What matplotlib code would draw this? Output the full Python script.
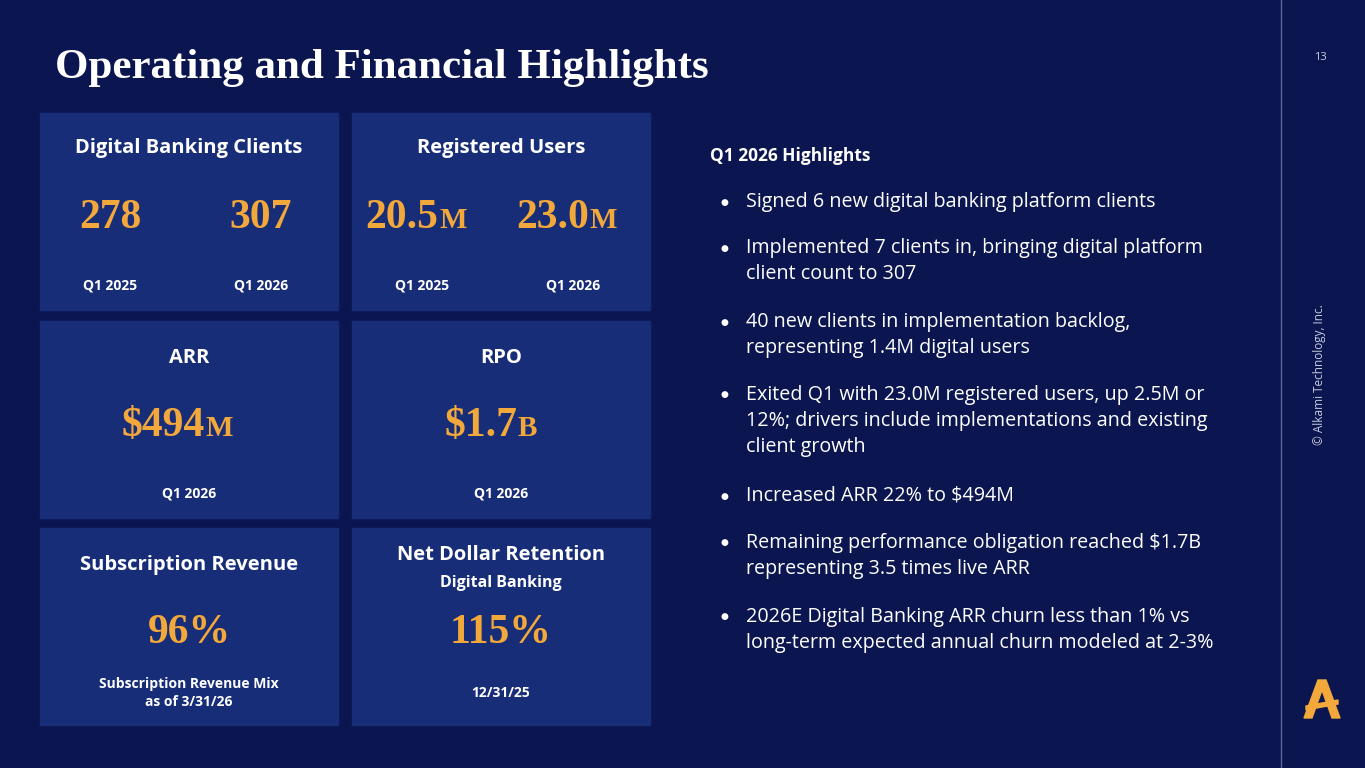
import matplotlib
matplotlib.use("Agg")
import matplotlib.pyplot as plt
from matplotlib.patches import Rectangle, Polygon

title = "Operating and Financial Highlights"
tile_titles = ["Digital Banking Clients", "Registered Users", "ARR", "RPO",
               "Subscription Revenue", "Net Dollar Retention"]
tile_sub = ["", "", "", "", "", "Digital Banking"]
tile_values = [
    [("278", "", "Q1 2025"), ("307", "", "Q1 2026")],
    [("20.5", "M", "Q1 2025"), ("23.0", "M", "Q1 2026")],
    [("$494", "M", "Q1 2026")],
    [("$1.7", "B", "Q1 2026")],
    [("96%", "", "Subscription Revenue Mix\nas of 3/31/26")],
    [("115%", "", "12/31/25")],
]
highlights_title = "Q1 2026 Highlights"
bullets = [
    "Signed 6 new digital banking platform clients",
    "Implemented 7 clients in, bringing digital platform\nclient count to 307",
    "40 new clients in implementation backlog,\nrepresenting 1.4M digital users",
    "Exited Q1 with 23.0M registered users, up 2.5M or\n12%; drivers include implementations and existing\nclient growth",
    "Increased ARR 22% to $494M",
    "Remaining performance obligation reached $1.7B\nrepresenting 3.5 times live ARR",
    "2026E Digital Banking ARR churn less than 1% vs\nlong-term expected annual churn modeled at 2-3%",
]
bullet_y = [201, 247, 321, 394, 495, 542, 616]

BG = "#0b1650"
TILE = "#182d78"
GOLD = "#f2a83b"
WHITE = "#ffffff"
SANS = ["Open Sans", "DejaVu Sans"]
SERIF = ["Liberation Serif", "DejaVu Serif"]

fig = plt.figure(figsize=(13.65, 7.68), dpi=100, facecolor=BG)
ax = fig.add_axes([0, 0, 1, 1])
ax.set_xlim(0, 1365); ax.set_ylim(768, 0); ax.axis("off")
ax.set_facecolor(BG)

ax.text(55, 68, title, fontsize=31, fontweight="bold", family=SERIF, color=WHITE, va="center")
ax.plot([1281, 1281], [0, 768], color="#5a6699", lw=1)
ax.text(1320, 57, "13", fontsize=8, family=SANS, color="#c8cce0", ha="center", va="center")
ax.text(1320, 375, "© Alkami Technology, Inc.", fontsize=8.5, family=SANS, color="#c8cce0",
        ha="center", va="center", rotation=90)
ax.add_patch(Polygon([[1304, 718], [1318, 680], [1326, 680], [1340, 718], [1332, 718],
                      [1322, 690], [1312, 718]], color=GOLD))
ax.add_patch(Polygon([[1306, 706], [1338, 700], [1338, 704], [1306, 710]], color=GOLD))

cols = [40, 352]; rows = [113, 321, 528]; W, H = 298, 197
for i, t in enumerate(tile_titles):
    x0 = cols[i % 2]; y0 = rows[i // 2]
    ax.add_patch(Rectangle((x0, y0), W, H, color=TILE))
    cx = x0 + W / 2
    ty = 148 if i < 2 else y0 + 37
    if i == 5:
        ty = y0 + 27
    ax.text(cx, ty, t, fontsize=14.5, fontweight="bold", family=SANS, color=WHITE, ha="center", va="center")
    if tile_sub[i]:
        ax.text(cx, y0 + 55, tile_sub[i], fontsize=11.5, fontweight="bold", family=SANS,
                color=WHITE, ha="center", va="center")
    vals = tile_values[i]
    if len(vals) == 2:
        xs = [x0 + 70, x0 + 221]
    else:
        xs = [cx]
    vy, ly = y0 + 105, y0 + 172
    if i >= 4:
        ly = y0 + 165
    for (num, suf, lab), xc in zip(vals, xs):
        if suf:
            off = 16
            ax.text(xc + off, vy, num, fontsize=30, fontweight="bold", family=SERIF, color=GOLD,
                    ha="right", va="center")
            ax.text(xc + off + 1, vy + 3, suf, fontsize=21, fontweight="bold", family=SERIF, color=GOLD,
                    ha="left", va="center")
        else:
            ax.text(xc, vy, num, fontsize=30, fontweight="bold", family=SERIF, color=GOLD,
                    ha="center", va="center")
        ax.text(xc, ly, lab, fontsize=10, fontweight="bold", family=SANS, color=WHITE,
                ha="center", va="center", linespacing=1.3)

ax.text(710, 156, highlights_title, fontsize=12.5, fontweight="bold", family=SANS, color=WHITE, va="center")
for b, y in zip(bullets, bullet_y):
    ax.text(724, y + 1, "●", fontsize=6.5, family=SANS, color=WHITE, va="center", ha="center")
    ax.text(746, y - 9, b, fontsize=14.2, family=SANS, color=WHITE, va="top", linespacing=1.4)

fig.savefig("out.png", dpi=100, facecolor=BG)
